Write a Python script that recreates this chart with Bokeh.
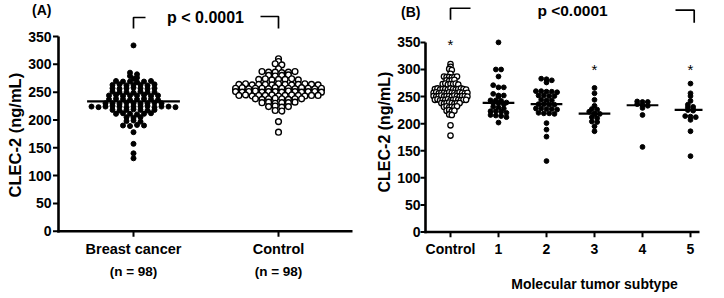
import numpy as np
from bokeh.plotting import figure
from bokeh.layouts import row
from bokeh.models import FixedTicker, LinearAxis, Label, Range1d, Title
from bokeh.embed import file_html
from bokeh.resources import INLINE

FONT = "Liberation Sans"

# ---------------- data: panel A ----------------
groups_a = ["Breast cancer", "Control"]
counts_a = ["(n = 98)", "(n = 98)"]
p_text_a = "p < 0.0001"
y_label = "CLEC-2 (ng/mL)"
y_ticks = [0, 50, 100, 150, 200, 250, 300, 350]

breast_cancer = [
    334, 285, 282, 279, 276, 274,
    270, 269, 269, 268, 269, 270,
    263, 264, 262, 263, 263, 262, 264,
    257, 256, 257, 258, 257, 256, 257,
    251, 250, 250, 249, 251, 250, 250,
    244, 245, 243, 244, 244, 245, 243, 244,
    237, 238, 237, 236, 237, 238, 237, 236,
    230, 230, 229, 231, 230, 229, 230, 231, 230,
    224, 223, 224, 225, 224, 223, 224, 224, 225, 223, 224, 224, 223,
    218, 217, 218, 219, 218, 217, 218,
    211, 212, 211, 210, 211, 212,
    205, 204, 205,
    198, 199, 197,
    190, 189, 191, 190,
    178, 157, 140, 131,
]

control = [
    310, 305, 301, 299, 292,
    287, 286, 286, 285, 286, 287,
    280, 279, 280, 281,
    273, 274, 272, 273, 273, 274, 272,
    264, 265, 263, 264, 264, 263, 265, 264, 263, 264, 265, 264, 263,
    257, 258, 256, 257, 257, 256, 258, 257, 257, 256, 258, 257, 256, 257,
    251, 250, 251, 252, 250, 251, 251, 250, 252, 251, 250, 251, 251, 250,
    244, 245, 243, 244, 244, 245, 243, 244, 245, 244, 243, 244, 244,
    238, 237, 238, 239, 238, 237, 238, 238,
    231, 232, 230, 231, 231, 232,
    224, 225, 223, 224,
    217, 216,
    197, 178,
]

# ---------------- data: panel B ----------------
groups_b = ["Control", "1", "2", "3", "4", "5"]
x_title_b = "Molecular tumor subtype"
p_text_b = "p <0.0001"
subtype_1 = [350, 300, 300, 287, 271, 267, 267, 255, 252, 252, 250, 243, 243, 242, 239,
             238, 238, 236, 231, 230, 228, 223, 223, 222, 220, 216, 215, 214, 212, 202]
subtype_2 = [283, 282, 280, 276, 260, 260, 259, 259, 258, 252, 252, 251, 251, 244, 243, 243,
             236, 236, 235, 235, 228, 228, 227, 227, 226, 220, 219, 219, 218, 201, 189, 176, 131]
subtype_3 = [266, 256, 244, 233, 227, 226, 222, 219, 218, 217, 212, 210, 204, 203, 195, 186]
subtype_4 = [241, 240, 240, 236, 234, 233, 229, 216, 157]
subtype_5 = [274, 256, 251, 242, 235, 231, 230, 226, 225, 224, 214, 213, 212, 207, 186, 140]
star_groups = ["Control", "3", "5"]


def swarm_x(values, center, binw, dx):
    """GraphPad-like column scatter: points grouped in horizontal rows."""
    order = sorted(range(len(values)), key=lambda i: -values[i])
    rows, cur, start = [], [], None
    for i in order:
        v = values[i]
        if cur and start - v < binw:
            cur.append(i)
        else:
            if cur:
                rows.append(cur)
            cur, start = [i], v
    rows.append(cur)
    xs = [0.0] * len(values)
    for r in rows:
        r = sorted(r)
        n = len(r)
        for k, i in enumerate(r):
            xs[i] = center + (k - (n - 1) / 2) * dx
    return xs


def label_axis(ax, size, standoff):
    ax.axis_line_color = None
    ax.major_tick_line_color = None
    ax.minor_tick_line_color = None
    ax.major_tick_out = 0
    ax.major_tick_in = 0
    ax.major_label_standoff = standoff
    ax.major_label_text_font = FONT
    ax.major_label_text_font_style = "bold"
    ax.major_label_text_font_size = size
    ax.major_label_text_color = "black"


def add_text(p, x, y, t, size, bold=True, align="center", baseline="middle"):
    p.add_layout(Label(x=x, y=y, text=t, text_font=FONT, text_font_size=size,
                       text_font_style="bold" if bold else "normal",
                       text_align=align, text_baseline=baseline, text_color="black"))


def make_panel(g):
    """g: pixel geometry of one panel (frame and axes in screen px)."""
    pxu = (g["c1"] - g["c0"]) / (g["v1"] - g["v0"])
    pyu = (g["ay"] - g["y350"]) / 350.0
    xd = lambda px: g["v0"] + (px - g["c0"]) / pxu
    yd = lambda py: (g["ay"] - py) / pyu
    p = figure(width=g["w"], height=g["h"],
               x_range=Range1d(xd(g["fl"]), xd(g["fr"])),
               y_range=Range1d(yd(g["fb"]), yd(0)),
               output_backend="svg", toolbar_location=None,
               min_border_left=g["fl"], min_border_right=g["w"] - g["fr"],
               min_border_top=0, min_border_bottom=g["h"] - g["fb"])
    p.xgrid.grid_line_color = None
    p.ygrid.grid_line_color = None
    p.outline_line_color = None
    p.background_fill_color = "white"
    p.border_fill_color = "white"
    # axis lines and tick marks
    axx = xd(g["ax"])
    p.segment(x0=[axx, xd(g["ax"] - 1.2)], y0=[yd(g["ay"] + 1.2), 0],
              x1=[axx, xd(g["xend"])], y1=[350, 0], line_width=2.6, line_color="black")
    p.segment(x0=[xd(g["ax"] - 5.5)] * len(y_ticks), y0=y_ticks,
              x1=[axx] * len(y_ticks), y1=y_ticks, line_width=2, line_color="black")
    return p, xd, yd, pxu, pyu


# ================= Panel A =================
GA = dict(w=362, h=298, fl=51, fr=356, fb=238, ax=58, ay=230.7, y350=36.0,
          c0=133.0, c1=278.0, v0=1, v1=2, xend=352)
pa, xda, yda, pxa, pya = make_panel(GA)
cats_a = [1, 2]
pa.segment(x0=cats_a, y0=[0, 0], x1=cats_a, y1=[yda(236.2)] * 2, line_width=2, line_color="black")

yA = 397
pa.yaxis.ticker = FixedTicker(ticks=y_ticks + [yA])
pa.yaxis.major_label_overrides = {yA: "(A)"}
label_axis(pa.yaxis[0], "14px", 0)
pa.xaxis.ticker = FixedTicker(ticks=cats_a)
pa.xaxis.major_label_overrides = {1: groups_a[0], 2: groups_a[1]}
label_axis(pa.xaxis[0], "14.5px", 2)
ax2 = LinearAxis(ticker=FixedTicker(ticks=cats_a),
                 major_label_overrides={1: counts_a[0], 2: counts_a[1]})
label_axis(ax2, "13.5px", 4)
pa.add_layout(ax2, "below")
pa.add_layout(Title(text=y_label, align="left", offset=41, standoff=0, vertical_align="top",
                    text_font=FONT, text_font_style="bold", text_font_size="16.5px",
                    text_color="black"), "left")

xbc = swarm_x(breast_cancer, 1, 4, 7.0 / pxa)
xct = swarm_x(control, 2, 4, 6.6 / pxa)
mb, mc = float(np.median(breast_cancer)), float(np.median(control))
pa.segment(x0=[1 - 0.32, 2 - 0.32], y0=[mb, mc], x1=[1 + 0.32, 2 + 0.32], y1=[mb, mc],
           line_width=2.2, line_color="black")
pa.scatter(xbc, breast_cancer, size=5, color="black")
pa.scatter(xct, control, size=5.8, fill_color="white", line_color="black", line_width=1.4)

pa.multi_line(xs=[[1, 1, xda(145)], [xda(260), 2, 2]],
              ys=[[yda(28), yda(17), yda(17)], [yda(16), yda(16), yda(28)]],
              line_width=1.7, line_color="black")
add_text(pa, xda(205), yda(16.5), p_text_a, "16px")

# ================= Panel B =================
GB = dict(w=362, h=298, fl=58, fr=340, fb=246, ax=63, ay=239.3, y350=43.3,
          c0=88.0, c1=328.0, v0=0, v1=5, xend=337)
pb, xdb, ydb, pxb, pyb = make_panel(GB)
cats_b = list(range(6))
pb.segment(x0=cats_b, y0=[0] * 6, x1=cats_b, y1=[ydb(244.8)] * 6, line_width=2, line_color="black")

yB = 406
pb.yaxis.ticker = FixedTicker(ticks=y_ticks + [yB])
pb.yaxis.major_label_overrides = {yB: "(B)"}
label_axis(pb.yaxis[0], "14px", 0)
pb.xaxis.ticker = FixedTicker(ticks=cats_b)
pb.xaxis.major_label_overrides = {i: g for i, g in enumerate(groups_b)}
label_axis(pb.xaxis[0], "14px", 2)
bx2 = LinearAxis(ticker=FixedTicker(ticks=[3]), major_label_overrides={3: x_title_b})
label_axis(bx2, "14px", 16)
pb.add_layout(bx2, "below")
pb.add_layout(Title(text=y_label, align="left", offset=46, standoff=0, vertical_align="top",
                    text_font=FONT, text_font_style="bold", text_font_size="16px",
                    text_color="black"), "left")

subtypes = [subtype_1, subtype_2, subtype_3, subtype_4, subtype_5]
xctb = swarm_x(control, 0, 4, 2.6 / pxb)
pb.scatter(xctb, control, size=5.4, fill_color="white", line_color="black", line_width=1.3)
for k, s in enumerate(subtypes, start=1):
    xs = swarm_x(s, k, 4.5, 5.3 / pxb)
    med = float(np.median(s))
    pb.segment(x0=k - 0.33, y0=med, x1=k + 0.33, y1=med, line_width=2.2, line_color="black")
    pb.scatter(xs, s, size=4.8, color="black")

star_y = {"Control": 346, "3": 300, "5": 300}
for g in star_groups:
    add_text(pb, groups_b.index(g), star_y[g], "*", "15px", bold=False, baseline="alphabetic")

pb.multi_line(xs=[[0, 0, xdb(108)], [xdb(313), xdb(331.7), xdb(331.7)]],
              ys=[[ydb(20), ydb(8), ydb(8)], [ydb(10), ydb(10), ydb(23)]],
              line_width=1.7, line_color="black")
add_text(pb, xdb(210), ydb(10), p_text_b, "15.5px")

layout = row(pa, pb)
open("out.html", "w").write(file_html(layout, INLINE))
